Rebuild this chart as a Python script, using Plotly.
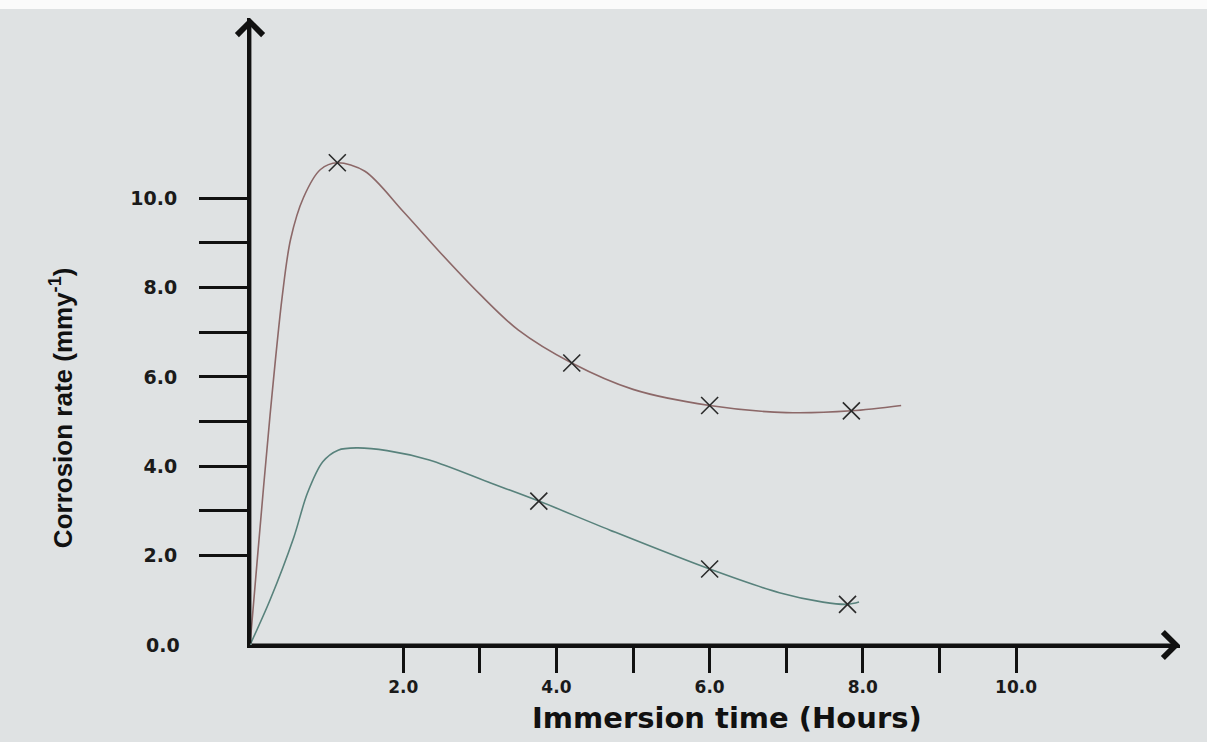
import plotly.graph_objects as go

# ---- data ----
x_tick_values = [2, 3, 4, 5, 6, 7, 8, 9, 10]
x_tick_labels = ["2.0", "", "4.0", "", "6.0", "", "8.0", "", "10.0"]
y_tick_values = [2, 3, 4, 5, 6, 7, 8, 9, 10]
y_tick_labels = ["2.0", "", "4.0", "", "6.0", "", "8.0", "", "10.0"]

# upper curve (smooth line drawn through the measured points)
upper_curve_x = [0, 0.09, 0.26, 0.42, 0.53, 0.70, 0.92, 1.14, 1.5, 2.0, 2.5, 3.0, 3.5, 4.2, 5.0, 6.0, 7.0, 7.85, 8.5]
upper_curve_y = [0, 1.81, 5.11, 7.79, 9.08, 10.02, 10.64, 10.79, 10.6, 9.7, 8.75, 7.85, 7.05, 6.31, 5.72, 5.36, 5.2, 5.24, 5.36]
upper_marker_x = [1.14, 4.2, 6.0, 7.85]
upper_marker_y = [10.79, 6.31, 5.36, 5.24]

# lower curve
lower_curve_x = [0, 0.26, 0.57, 0.75, 0.95, 1.15, 1.39, 1.79, 2.34, 3.15, 3.77, 4.70, 6.0, 6.91, 7.48, 7.8, 7.95]
lower_curve_y = [0, 1.0, 2.4, 3.4, 4.1, 4.36, 4.41, 4.35, 4.14, 3.62, 3.22, 2.57, 1.70, 1.17, 0.96, 0.91, 0.96]
lower_marker_x = [3.77, 6.0, 7.8]
lower_marker_y = [3.22, 1.70, 0.91]

x_max = 12.14
y_max = 14.03

BG = "#dfe2e3"
INK = "#111111"

fig = go.Figure()

fig.add_trace(go.Scatter(x=upper_curve_x, y=upper_curve_y, mode="lines",
                         line=dict(color="#8c6868", width=1.6, shape="spline", smoothing=0.9),
                         hoverinfo="skip", showlegend=False))
fig.add_trace(go.Scatter(x=lower_curve_x, y=lower_curve_y, mode="lines",
                         line=dict(color="#58827c", width=1.6, shape="spline", smoothing=0.9),
                         hoverinfo="skip", showlegend=False))
fig.add_trace(go.Scatter(x=upper_marker_x, y=upper_marker_y, mode="markers",
                         marker=dict(symbol="x-thin", size=17, line=dict(color="#2a2a2a", width=1.6)),
                         showlegend=False))
fig.add_trace(go.Scatter(x=lower_marker_x, y=lower_marker_y, mode="markers",
                         marker=dict(symbol="x-thin", size=17, line=dict(color="#2a2a2a", width=1.6)),
                         showlegend=False))

y_tick_font = dict(family="DejaVu Sans", size=19, color="#1a1a1a", weight="bold")
x_tick_font = dict(family="DejaVu Sans", size=17, color="#1a1a1a", weight="bold")

fig.update_xaxes(range=[0, x_max], showgrid=False, zeroline=False,
                 showline=True, linecolor=INK, linewidth=3,
                 ticks="outside", ticklen=25, tickwidth=2.5, tickcolor=INK,
                 tickvals=x_tick_values, ticktext=x_tick_labels,
                 tickfont=x_tick_font, ticklabelstandoff=0)
fig.update_yaxes(range=[0, y_max], showgrid=False, zeroline=False,
                 showline=True, linecolor=INK, linewidth=3,
                 ticks="outside", ticklen=48, tickwidth=2.5, tickcolor=INK,
                 tickvals=y_tick_values, ticktext=y_tick_labels,
                 tickfont=y_tick_font, ticklabelstandoff=18)

annotations = [
    # axis arrows
    dict(x=x_max, y=0, ax=0, ay=0, xref="x", yref="y", axref="x", ayref="y",
         text="", showarrow=True, arrowhead=4, arrowsize=1.8, arrowwidth=2.8, arrowcolor=INK),
    dict(x=0, y=y_max, ax=0, ay=0, xref="x", yref="y", axref="x", ayref="y",
         text="", showarrow=True, arrowhead=4, arrowsize=1.8, arrowwidth=2.8, arrowcolor=INK),
    # origin label on the y axis
    dict(x=0, y=0, xref="paper", yref="y", text="0.0", showarrow=False,
         xanchor="right", yanchor="middle", xshift=-68, font=y_tick_font),
    # axis titles
    dict(x=-0.202, y=0.378, xref="paper", yref="paper", text="Corrosion rate (mmy<sup>-1</sup>)",
         showarrow=False, textangle=-90, xanchor="center", yanchor="middle",
         font=dict(family="Liberation Sans Narrow, Liberation Sans, Arial", size=26, color=INK, weight="bold")),
    dict(x=0.513, y=-0.117, xref="paper", yref="paper", text="Immersion time (Hours)",
         showarrow=False, xanchor="center", yanchor="middle",
         font=dict(family="DejaVu Sans", size=29, color=INK, weight="bold")),
]

# thin white strip along the top edge of the photographed page
shapes = [
    dict(type="rect", xref="paper", yref="paper", x0=-0.3, x1=1.05, y0=1.0144, y1=1.04,
         fillcolor="#fbfbfb", line=dict(width=0), layer="below"),
]

fig.update_layout(
    width=1207, height=742,
    margin=dict(l=250, r=27, t=18, b=97),
    paper_bgcolor=BG, plot_bgcolor=BG,
    annotations=annotations, shapes=shapes,
    showlegend=False,
)

fig.write_html("out.html", config={"displayModeBar": False},
               post_script="document.body.style.margin='0';document.body.style.overflow='hidden';")
